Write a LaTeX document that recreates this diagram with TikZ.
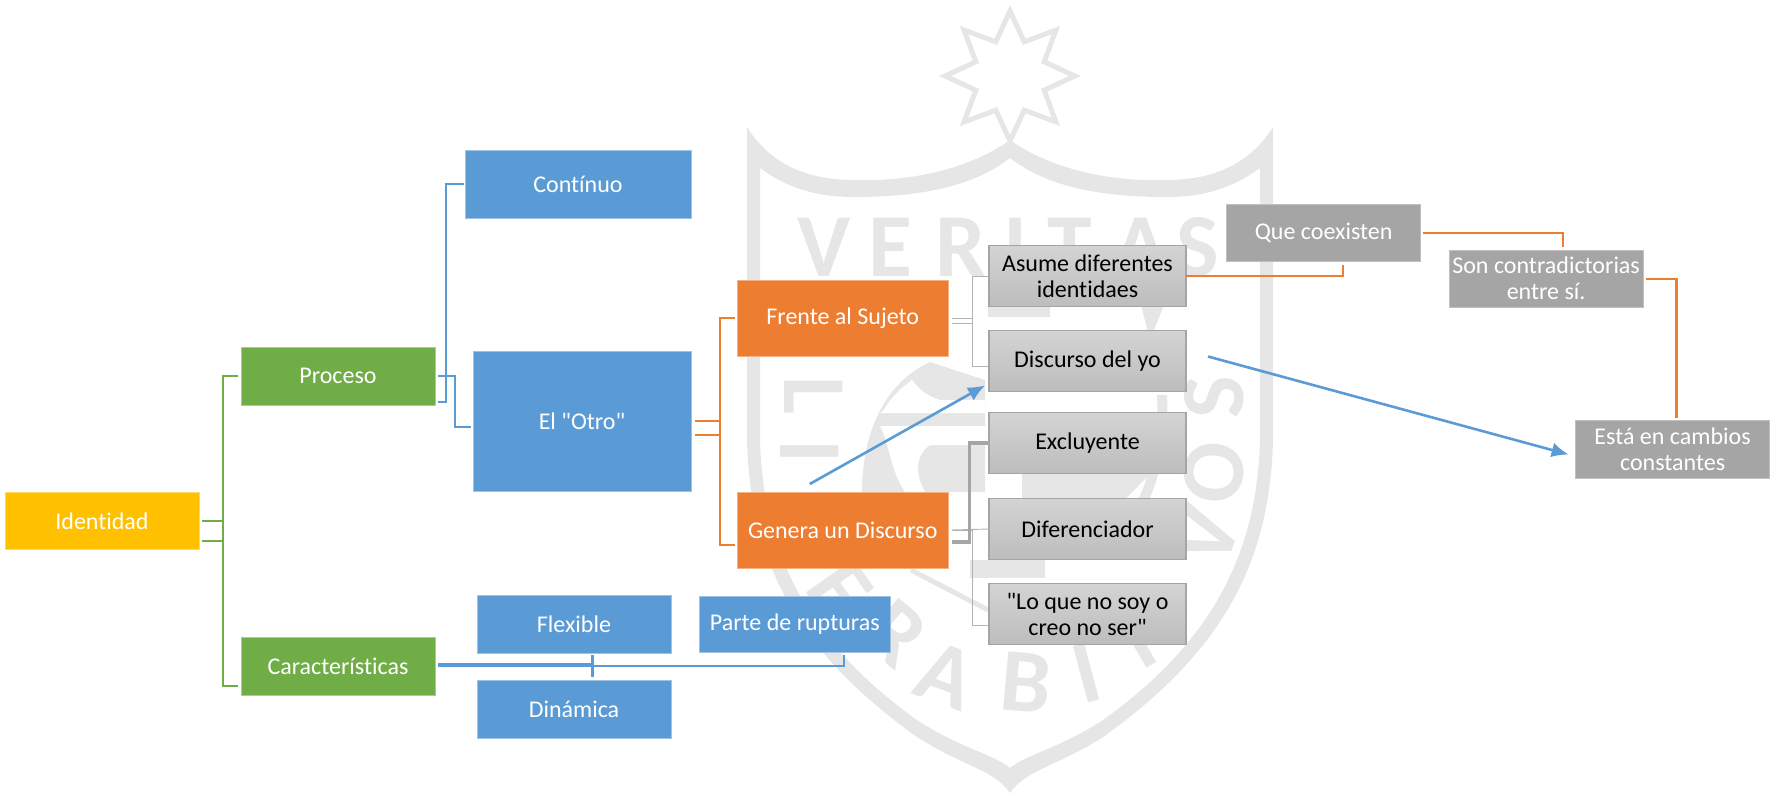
\documentclass[tikz,border=0pt]{standalone}
\usepackage{fontspec}
\setmainfont{Carlito}
\newfontfamily\boxfont[RawFeature={-liga,-clig}]{Carlito}
\usetikzlibrary{positioning,arrows.meta}
\definecolor{cblue}{HTML}{5B9BD5}
\definecolor{cgreen}{HTML}{70AD47}
\definecolor{corange}{HTML}{ED7D31}
\definecolor{cgray}{HTML}{A5A5A5}
\definecolor{cgold}{HTML}{FFC000}
\definecolor{cmark}{HTML}{E6E6E6}

\begin{document}
\begin{tikzpicture}[x=1pt,y=-1pt]
\tikzstyle{main}=[rectangle, inner sep=0pt, outer sep=0pt, align=center, text=white, font=\boxfont\fontsize{24}{26}\selectfont, minimum width=194pt, minimum height=58pt]
\tikzstyle{bluebox}=[main, fill=cblue, draw=cblue!60, line width=0.8pt]
\tikzstyle{greenbox}=[main, fill=cgreen, draw=cgreen!60, line width=0.8pt]
\tikzstyle{orangebox}=[main, fill=corange, draw=corange!60, line width=0.8pt, minimum width=210.5pt, minimum height=76pt]
\tikzstyle{darkbox}=[main, fill=cgray, draw=cgray!70, line width=0.8pt, minimum height=57.5pt]
\tikzstyle{lightbox}=[main, text=black, top color=black!17, bottom color=black!26, draw=cgray, line width=1.2pt, minimum width=197pt, minimum height=61pt]
\tikzstyle{greenlink}=[cgreen, line width=2.4pt]
\tikzstyle{bluelink}=[cblue, line width=2.4pt]
\tikzstyle{orangelink}=[corange, line width=2.4pt]
\tikzstyle{thinlink}=[cgray!85, line width=0.9pt]
\tikzstyle{connect}=[cblue, line width=2.6pt, -{Latex[length=17pt,width=15pt]}]
\tikzstyle{crest}=[cmark, line width=5pt]
\tikzstyle{letter}=[inner sep=0pt, text=cmark, font=\fontsize{90}{90}\selectfont\bfseries]
  \useasboundingbox (0,0) rectangle (1771,795);
  \begin{scope}[shift={(1010,76)}]
    \draw[crest] (0:65) \foreach \a in {0,45,...,315} {-- (\a:65) -- (\a+22.5:37)} -- cycle;
  \end{scope}
  \fill[cmark, even odd rule] (747,127) .. controls (775,172) and (820,180) .. (854,180) .. controls (920,182) and (975,165) .. (1010,140)
      .. controls (1045,165) and (1100,182) .. (1166,180) .. controls (1200,180) and (1245,172) .. (1273,127) -- (1273,440)
      .. controls (1270,560) and (1225,650) .. (1103,737) .. controls (1060,765) and (1025,770) .. (1010,793)
      .. controls (995,770) and (960,765) .. (917,737) .. controls (795,650) and (750,560) .. (747,440) -- cycle
      (760,168) .. controls (790,190) and (820,197) .. (854,197) .. controls (925,197) and (975,185) .. (1010,158)
      .. controls (1045,185) and (1095,197) .. (1166,197) .. controls (1200,197) and (1230,190) .. (1260,168) -- (1260,440)
      .. controls (1257,550) and (1215,640) .. (1103,720) .. controls (1060,748) and (1025,755) .. (1010,768)
      .. controls (995,755) and (960,748) .. (917,720) .. controls (805,640) and (763,550) .. (760,440) -- cycle;
  \draw[crest, line width=10pt] (1162,395) .. controls (1165,450) and (1150,500) .. (1120,540);
  \fill[cmark] (988,303) -- (1050,303) -- (1050,317) -- (988,317) -- cycle;
  \fill[cmark] (1141,305) -- (1164,305) -- (1150,340) -- cycle;
  \fill[cmark] (930,362) .. controls (880,385) and (862,440) .. (862,492) -- (985,492) -- (985,380) -- cycle;
  \fill[white] (912,380) .. controls (885,400) and (885,412) .. (880,413) -- (985,413) -- (985,400) -- (940,400) .. controls (925,395) and (920,390) .. (912,380) -- cycle;
  \fill[white] (880,426) -- (985,426) -- (985,445) -- (930,445) .. controls (915,455) and (915,475) .. (925,492) -- (905,492) .. controls (890,470) and (890,445) .. (880,426) -- cycle;
  \fill[cmark] (1022,474) -- (1150,474) -- (1100,525) -- (1022,525) -- cycle;
  \fill[cmark] (970,560) -- (1045,560) -- (1045,578) -- (970,578) -- cycle;
  \draw[crest] (911,570) -- (988,610);
  \foreach \ch/\px/\py [count=\i] in {V/824/247,E/890/247,R/961/247,I/1015/247,T/1070/247,A/1141/247,S/1198/247}
    \node[letter] (top\i) at (\px,\py) {\ch};
  \foreach \ch/\px/\py/\rot [count=\i] in {L/814/396/-90,I/810/451/-90,E/840/590/-55,R/896/633/-40,A/946/675/-20,B/1026/683/-5,I/1087/673/15,T/1137/640/30,V/1206/537/70,O/1214/473/85,S/1214/397/90}
    \node[letter, rotate=\rot] (low\i) at (\px,\py) {\ch};
  \node[main, fill=cgold, draw=cgold!60, line width=0.8pt, minimum height=57.5pt] (identidad) at (102,521) {Identidad};
  \node[greenbox] (proceso) [right=42pt of identidad, yshift=145pt] {Proceso};
  \node[greenbox] (caract) [right=42pt of identidad, yshift=-145pt] {Características};
  \node[bluebox, minimum width=226pt, minimum height=68pt] (continuo) [right=30pt of proceso, yshift=192pt] {Contínuo};
  \node[bluebox, minimum width=218pt, minimum height=140pt] (otro) [right=38pt of proceso, yshift=-45pt] {El "Otro"};
  \node[orangebox] (frente) [right=46.5pt of otro, yshift=103pt] {Frente al Sujeto};
  \node[orangebox] (genera) [right=46.5pt of otro, yshift=-109pt] {Genera un Discurso};
  \node[lightbox] (asume) [right=41pt of frente, yshift=42pt] {Asume diferentes\\identidaes};
  \node[lightbox] (discurso) [below=24pt of asume] {Discurso del yo};
  \node[lightbox] (excluyente) [below=21pt of discurso] {Excluyente};
  \node[lightbox] (diferenciador) [below=25pt of excluyente] {Diferenciador};
  \node[lightbox] (noser) [below=24pt of diferenciador] {"Lo que no soy o\\creo no ser"};
  \node[darkbox] (coexisten) [right=40.6pt of asume, yshift=43pt] {Que coexisten};
  \node[darkbox] (contra) [right=28.5pt of coexisten, yshift=-45.7pt] {Son contradictorias\\entre sí.};
  \node[darkbox] (cambios) [below=113.3pt of contra, xshift=126.5pt] {Está en cambios\\constantes};
  \node[bluebox] (flexible) [right=42pt of caract, yshift=42pt] {Flexible};
  \node[bluebox] (dinamica) [below=27pt of flexible] {Dinámica};
  \node[bluebox, minimum width=191.5pt, minimum height=56pt] (parte) [right=28pt of flexible] {Parte de rupturas};
  \draw[greenlink] ([xshift=-3pt]proceso.west) -- ++(-15.3,0) |- ([xshift=2.7pt]identidad.east);
  \draw[greenlink] ([xshift=-3pt,yshift=-20pt]caract.west) -- ++(-15.3,0) |- ([xshift=2.7pt]identidad.east);
  \draw[greenlink] ([xshift=2.7pt,yshift=-20pt]identidad.east) -- ++(21,0);
  \draw[bluelink] ([xshift=3pt]proceso.east) -- ++(17,0) |- ([xshift=-2pt,yshift=-6pt]otro.west);
  \draw[bluelink] ([xshift=3pt,yshift=-26pt]proceso.east) -- ++(8,0) |- ([xshift=-1pt]continuo.west);
  \draw[bluelink, line width=3.5pt] ([xshift=3pt,yshift=1pt]caract.east) -- ++(155,0);
  \draw[bluelink] ([xshift=3pt]caract.east) -| ([xshift=49pt,yshift=-3pt]parte.south);
  \draw[bluelink] ([xshift=18.5pt,yshift=-2pt]flexible.south) -- ([xshift=18.5pt,yshift=3pt]dinamica.north);
  \draw[orangelink] ([xshift=-2.5pt]frente.west) -- ++(-15,0) |- ([xshift=4pt]otro.east);
  \draw[orangelink] ([xshift=-2.5pt,yshift=-15pt]genera.west) -- ++(-15,0) |- ([xshift=4pt]otro.east);
  \draw[orangelink] ([xshift=4pt,yshift=-14pt]otro.east) -- ++(24.5,0);
  \draw[thinlink] (asume.west) -- ++(-17,0) |- ([xshift=3.5pt]frente.east);
  \draw[thinlink] ([yshift=-5.5pt]discurso.west) -- ++(-17,0) |- ([xshift=3.5pt]frente.east);
  \draw[thinlink] ([xshift=3.5pt,yshift=-5pt]frente.east) -- ++(20.5,0);
  \draw[thinlink] ([xshift=3.5pt]genera.east) -- (diferenciador.west);
  \draw[thinlink] ([yshift=-11.5pt]noser.west) -- ++(-17,0) |- ([xshift=3.5pt]genera.east);
  \draw[cgray, line width=3.5pt] ([xshift=3.5pt,yshift=-12pt]genera.east) -- ++(18,0) |- (excluyente.west);
  \draw[orangelink] (asume.east) -| ([xshift=19.2pt,yshift=-3pt]coexisten.south);
  \draw[orangelink] ([xshift=2pt]coexisten.east) -| ([xshift=17pt,yshift=3pt]contra.north);
  \draw[orangelink] ([xshift=3pt]contra.east) -| ([xshift=4pt,yshift=3pt]cambios.north);
  \draw[connect] ([xshift=-33pt,yshift=8pt]genera.north) -- ([xshift=-4pt,yshift=6pt]discurso.south west);
  \draw[connect] ([xshift=22pt,yshift=4.5pt]discurso.east) -- ([xshift=-7pt,yshift=-5pt]cambios.west);
\end{tikzpicture}
\end{document}
